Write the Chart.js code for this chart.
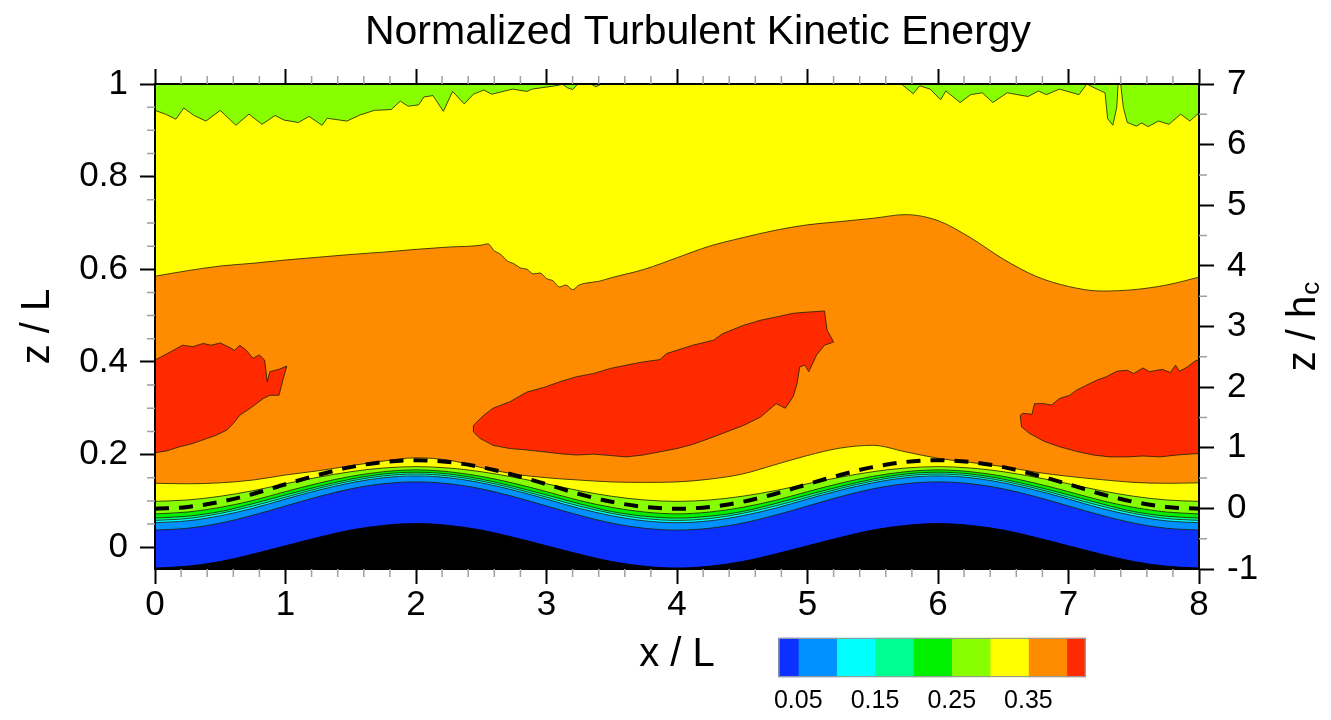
<!DOCTYPE html>
<html>
<head>
<meta charset="utf-8">
<title>Normalized Turbulent Kinetic Energy</title>
<script src="https://cdn.jsdelivr.net/npm/chart.js@4.4.1/dist/chart.umd.min.js"></script>
<style>
  html, body { margin: 0; padding: 0; background: #fff; }
  #wrap { position: relative; width: 1331px; height: 720px; }
  #field { position: absolute; left: 0; top: 0; }
  #legend { position: absolute; left: 740px; top: 628px; }
</style>
</head>
<body>
<div id="wrap">
  <canvas id="field" width="1331" height="720"></canvas>
  <canvas id="legend" width="380" height="92"></canvas>
</div>
<script>
const FONT = "'Liberation Sans', Arial, Helvetica, sans-serif";
const mainTitle = 'Normalized Turbulent Kinetic Energy';

// contour levels and the colour of each band, lowest band first
const levels = [0.05, 0.10, 0.15, 0.20, 0.25, 0.30, 0.35, 0.40];
const bandColors = ['#0c30ff', '#0090ff', '#00ffff', '#00ff90', '#00f000', '#88ff00', '#ffff00', '#ff8c00', '#ff2a00'];
const legendMin = 0.024, legendMax = 0.425;
const legendTicks = [0.05, 0.15, 0.25, 0.35];

// axes
const xTicks = [0, 1, 2, 3, 4, 5, 6, 7, 8];
const zTicks = [0, 0.2, 0.4, 0.6, 0.8, 1];
const hcTicks = [-1, 0, 1, 2, 3, 4, 5, 6, 7];
const zMin = -0.047, zMax = 1;
const hcMin = -1, hcMax = 7;

// near-wall layers, sampled every 0.25 L
const layerX = Array.from({ length: 33 }, (_, i) => i * 0.25);
const terrain = [-0.045,-0.041,-0.031,-0.015,0.003,0.021,0.037,0.047,0.051,0.047,0.037,0.021,0.003,-0.015,-0.031,-0.041,-0.045,-0.041,-0.031,-0.015,0.003,0.021,0.037,0.047,0.051,0.047,0.037,0.021,0.003,-0.015,-0.031,-0.041,-0.045];
const z005 = [0.037,0.041,0.052,0.069,0.089,0.109,0.126,0.137,0.141,0.137,0.126,0.109,0.089,0.069,0.052,0.041,0.037,0.041,0.052,0.069,0.089,0.109,0.126,0.137,0.141,0.137,0.126,0.109,0.089,0.069,0.052,0.041,0.037];
const z010 = [0.053,0.057,0.068,0.084,0.104,0.123,0.139,0.150,0.154,0.150,0.139,0.123,0.104,0.084,0.068,0.057,0.053,0.057,0.068,0.084,0.104,0.123,0.139,0.150,0.154,0.150,0.139,0.123,0.104,0.084,0.068,0.057,0.053];
const z015 = [0.058,0.062,0.073,0.089,0.108,0.127,0.143,0.154,0.158,0.154,0.143,0.127,0.108,0.089,0.073,0.062,0.058,0.062,0.073,0.089,0.108,0.127,0.143,0.154,0.158,0.154,0.143,0.127,0.108,0.089,0.073,0.062,0.058];
const z020 = [0.063,0.067,0.077,0.094,0.113,0.131,0.147,0.158,0.162,0.158,0.147,0.131,0.113,0.094,0.077,0.067,0.063,0.067,0.077,0.094,0.113,0.131,0.147,0.158,0.162,0.158,0.147,0.131,0.113,0.094,0.077,0.067,0.063];
const z025 = [0.072,0.076,0.086,0.101,0.120,0.138,0.153,0.163,0.167,0.163,0.153,0.138,0.120,0.101,0.086,0.076,0.072,0.076,0.086,0.101,0.120,0.138,0.153,0.163,0.167,0.163,0.153,0.138,0.120,0.101,0.086,0.076,0.072];
const z030 = [0.099,0.102,0.110,0.122,0.137,0.151,0.163,0.171,0.174,0.171,0.163,0.151,0.137,0.122,0.110,0.102,0.099,0.102,0.110,0.122,0.137,0.151,0.163,0.171,0.174,0.171,0.163,0.151,0.137,0.122,0.110,0.102,0.099];
const z035 = [0.138,0.137,0.139,0.145,0.156,0.165,0.176,0.186,0.193,0.188,0.172,0.158,0.150,0.145,0.141,0.140,0.141,0.147,0.158,0.178,0.198,0.214,0.220,0.206,0.192,0.183,0.174,0.162,0.153,0.146,0.140,0.138,0.139];
const canopyTop = [0.083,0.087,0.098,0.115,0.136,0.156,0.173,0.184,0.188,0.184,0.173,0.156,0.136,0.115,0.098,0.087,0.083,0.087,0.098,0.115,0.136,0.156,0.173,0.184,0.188,0.184,0.173,0.156,0.136,0.115,0.098,0.087,0.083];

// 0.35 contour in the upper flow (orange below, yellow above)
const upper035 = [[0,0.585],[0.25,0.597],[0.5,0.607],[0.75,0.613],[1,0.620],[1.25,0.626],[1.5,0.632],[1.75,0.637],[2,0.643],[2.25,0.648],[2.5,0.652],[2.55,0.655],[2.6,0.640],[2.65,0.632],[2.7,0.618],[2.75,0.612],[2.8,0.603],[2.85,0.600],[2.9,0.590],[2.95,0.592],[3,0.580],[3.05,0.575],[3.1,0.562],[3.15,0.566],[3.2,0.556],[3.25,0.566],[3.3,0.570],[3.4,0.574],[3.5,0.582],[3.75,0.600],[4,0.625],[4.25,0.650],[4.5,0.668],[4.75,0.684],[5,0.696],[5.25,0.703],[5.5,0.710],[5.75,0.718],[6,0.705],[6.25,0.668],[6.5,0.622],[6.75,0.585],[7,0.563],[7.25,0.553],[7.5,0.556],[7.75,0.566],[8,0.583]];

// 0.30 contour near the top of the domain
const upper030 = [[0,0.943],[0.08,0.935],[0.16,0.924],[0.22,0.948],[0.3,0.932],[0.39,0.920],[0.5,0.943],[0.62,0.911],[0.72,0.935],[0.82,0.913],[0.92,0.932],[0.99,0.922],[1.10,0.917],[1.18,0.930],[1.28,0.911],[1.32,0.926],[1.47,0.920],[1.57,0.933],[1.68,0.943],[1.81,0.945],[1.88,0.963],[1.94,0.952],[2.02,0.955],[2.06,0.972],[2.13,0.975],[2.21,0.941],[2.28,0.984],[2.37,0.957],[2.44,0.978],[2.52,0.987],[2.58,0.978],[2.74,0.989],[2.85,0.984],[2.89,0.989],[3.09,0.997],[3.12,1.0],[3.16,0.992],[3.2,0.988],[3.24,1.0],[3.34,1.0],[3.38,0.994],[3.42,1.0],[5.72,1.0],[5.81,0.979],[5.86,0.996],[5.94,0.989],[6.02,0.966],[6.06,0.985],[6.17,0.960],[6.25,0.977],[6.34,0.981],[6.42,0.960],[6.53,0.981],[6.69,0.973],[6.77,0.985],[6.83,0.977],[6.93,0.989],[7.08,0.977],[7.14,1.0],[7.18,0.994],[7.28,0.981],[7.30,0.925],[7.34,0.911],[7.37,0.95],[7.38,1.0],[7.40,1.0],[7.42,0.95],[7.45,0.917],[7.52,0.909],[7.56,0.916],[7.61,0.908],[7.69,0.920],[7.77,0.913],[7.86,0.935],[7.93,0.920],[8.0,0.938]];

// closed 0.40 contours
const redLeft = [[0,0.404],[0.06,0.413],[0.14,0.425],[0.21,0.436],[0.29,0.433],[0.37,0.440],[0.43,0.436],[0.50,0.441],[0.56,0.433],[0.61,0.425],[0.65,0.436],[0.70,0.425],[0.75,0.408],[0.80,0.415],[0.84,0.404],[0.86,0.357],[0.88,0.379],[0.95,0.384],[1.01,0.391],[0.98,0.361],[0.95,0.328],[0.88,0.328],[0.83,0.321],[0.73,0.300],[0.65,0.285],[0.60,0.267],[0.55,0.253],[0.47,0.242],[0.40,0.235],[0.29,0.224],[0.19,0.217],[0.09,0.208],[0,0.204],[0,0.404]];
const redMiddle = [[2.44,0.263],[2.52,0.285],[2.59,0.300],[2.72,0.314],[2.85,0.335],[2.98,0.345],[3.10,0.357],[3.23,0.368],[3.36,0.375],[3.49,0.386],[3.61,0.393],[3.74,0.400],[3.87,0.405],[3.92,0.418],[4.12,0.436],[4.28,0.447],[4.35,0.461],[4.51,0.479],[4.64,0.490],[4.76,0.497],[4.89,0.505],[5.02,0.508],[5.13,0.510],[5.15,0.469],[5.20,0.443],[5.13,0.436],[5.07,0.415],[5.01,0.379],[4.98,0.393],[4.94,0.389],[4.92,0.353],[4.89,0.325],[4.83,0.300],[4.76,0.310],[4.64,0.281],[4.51,0.263],[4.38,0.249],[4.25,0.235],[4.12,0.222],[4.00,0.213],[3.87,0.206],[3.74,0.199],[3.61,0.195],[3.49,0.198],[3.36,0.201],[3.23,0.199],[3.10,0.202],[2.98,0.206],[2.85,0.210],[2.72,0.213],[2.59,0.220],[2.49,0.235],[2.44,0.249],[2.44,0.263]];
const redRight = [[6.63,0.285],[6.65,0.289],[6.72,0.287],[6.74,0.310],[6.81,0.310],[6.87,0.307],[6.93,0.321],[7.01,0.328],[7.06,0.339],[7.14,0.350],[7.22,0.361],[7.29,0.368],[7.37,0.380],[7.45,0.382],[7.50,0.375],[7.57,0.387],[7.62,0.379],[7.72,0.384],[7.78,0.377],[7.82,0.393],[7.85,0.380],[7.91,0.389],[7.97,0.402],[8,0.405],[8,0.202],[7.97,0.202],[7.83,0.199],[7.70,0.195],[7.57,0.197],[7.45,0.195],[7.32,0.195],[7.19,0.199],[7.06,0.207],[6.93,0.217],[6.81,0.229],[6.70,0.246],[6.64,0.260],[6.63,0.285]];

const pts = (xs, ys) => xs.map((x, i) => ({ x, y: ys[i] }));
const pairs = arr => arr.map(([x, y]) => ({ x, y }));

const edge = 'rgba(30,30,0,0.8)';
function band(label, data, color, order, extra) {
  return Object.assign({
    label, data, order,
    fill: 'start',
    backgroundColor: color,
    borderColor: edge,
    borderWidth: 1,
    pointRadius: 0,
    tension: 0
  }, extra);
}
const smooth = { cubicInterpolationMode: 'monotone' };

const datasets = [
  band('0.30', pairs(upper030), bandColors[6], 20),
  band('0.35', pairs(upper035), bandColors[7], 19, smooth),
  band('0.40 a', pairs(redLeft), bandColors[8], 18, { fill: 'shape' }),
  band('0.40 b', pairs(redMiddle), bandColors[8], 18, { fill: 'shape' }),
  band('0.40 c', pairs(redRight), bandColors[8], 18, { fill: 'shape' }),
  band('0.35 wall', pts(layerX, z035), bandColors[6], 17, smooth),
  band('0.30 wall', pts(layerX, z030), bandColors[5], 16, smooth),
  band('0.25 wall', pts(layerX, z025), bandColors[4], 15, smooth),
  band('0.20 wall', pts(layerX, z020), bandColors[3], 14, smooth),
  band('0.15 wall', pts(layerX, z015), bandColors[2], 13, smooth),
  band('0.10 wall', pts(layerX, z010), bandColors[1], 12, smooth),
  band('0.05 wall', pts(layerX, z005), bandColors[0], 11, smooth),
  band('terrain', pts(layerX, terrain), '#000', 10, Object.assign({ borderColor: '#000' }, smooth)),
  Object.assign({
    label: 'canopy top', data: pts(layerX, canopyTop), order: 9, fill: false,
    borderColor: '#000', borderWidth: 4, borderDash: [14, 10], pointRadius: 0
  }, smooth)
];

// fill behind everything: the band above the 0.30 contour
const topBand = {
  id: 'topBand',
  beforeDatasetsDraw(chart) {
    const { ctx, chartArea: a } = chart;
    ctx.save();
    ctx.fillStyle = bandColors[5];
    ctx.fillRect(a.left, a.top, a.right - a.left, a.bottom - a.top);
    ctx.restore();
  }
};

const xMinor = [];
xTicks.slice(0, -1).forEach(v => [0.2, 0.4, 0.6, 0.8].forEach(d => xMinor.push(v + d)));
const zMinor = [];
zTicks.slice(0, -1).forEach(v => [0.05, 0.1, 0.15].forEach(d => zMinor.push(v + d)));
const hcMinor = hcTicks.slice(0, -1).map(v => v + 0.5);

const minorTicks = {
  id: 'minorTicks',
  afterDraw(chart) {
    const { ctx, scales: s } = chart;
    ctx.save();
    ctx.strokeStyle = '#a0a0a0';
    ctx.lineWidth = 1.5;
    ctx.beginPath();
    xMinor.forEach(v => {
      const px = s.x.getPixelForValue(v);
      ctx.moveTo(px, s.x.top); ctx.lineTo(px, s.x.top + 8);
      ctx.moveTo(px, s.x2.bottom); ctx.lineTo(px, s.x2.bottom - 8);
    });
    zMinor.forEach(v => {
      const py = s.y.getPixelForValue(v);
      ctx.moveTo(s.y.right, py); ctx.lineTo(s.y.right - 8, py);
    });
    hcMinor.forEach(v => {
      const py = s.y2.getPixelForValue(v);
      ctx.moveTo(s.y2.left, py); ctx.lineTo(s.y2.left + 8, py);
    });
    ctx.stroke();
    ctx.restore();
  }
};

// plot title and the right axis title (with subscript)
const titles = {
  id: 'titles',
  afterDraw(chart) {
    const { ctx, chartArea: a } = chart;
    ctx.save();
    ctx.fillStyle = '#000';
    ctx.font = `41px ${FONT}`;
    ctx.textAlign = 'center';
    ctx.textBaseline = 'middle';
    ctx.fillText(mainTitle, 698, 33);

    const main = 'z / h', sub = 'c';
    ctx.font = `40px ${FONT}`;
    const w1 = ctx.measureText(main).width;
    ctx.font = `26px ${FONT}`;
    const w2 = ctx.measureText(sub).width;
    ctx.translate(1302, (a.top + a.bottom) / 2);
    ctx.rotate(-Math.PI / 2);
    ctx.textAlign = 'left';
    ctx.textBaseline = 'alphabetic';
    const x0 = -(w1 + w2 + 1) / 2;
    ctx.font = `40px ${FONT}`;
    ctx.fillText(main, x0, 13);
    ctx.font = `26px ${FONT}`;
    ctx.fillText(sub, x0 + w1 + 1, 17);
    ctx.restore();
  }
};

const tickFont = { family: FONT, size: 35 };
const titleFont = { family: FONT, size: 40 };
const frame = { display: true, color: '#000', width: 2, z: 1 };
const majorGrid = { drawOnChartArea: false, drawTicks: true, tickLength: 15, tickWidth: 2, tickColor: '#000' };
const setTicks = list => scale => { scale.ticks = list.map(v => ({ value: v })); };

new Chart(document.getElementById('field'), {
  type: 'line',
  data: { datasets },
  options: {
    responsive: false,
    animation: false,
    events: [],
    layout: { padding: 0 },
    plugins: { legend: { display: false }, tooltip: { enabled: false }, title: { display: false } },
    scales: {
      x: {
        type: 'linear', position: 'bottom', min: 0, max: 8,
        afterBuildTicks: setTicks(xTicks),
        afterFit: s => { s.height = 151; },
        grid: majorGrid, border: frame,
        ticks: { color: '#000', font: tickFont, padding: 0, maxRotation: 0, autoSkip: false, callback: v => String(v) },
        title: { display: true, text: 'x / L', color: '#000', font: titleFont, padding: { top: 0, bottom: 41 } }
      },
      x2: {
        type: 'linear', position: 'top', min: 0, max: 8,
        afterBuildTicks: setTicks(xTicks),
        afterFit: s => { s.height = 84; },
        grid: majorGrid, border: frame,
        ticks: { display: false }
      },
      y: {
        type: 'linear', position: 'left', min: zMin, max: zMax,
        afterBuildTicks: setTicks(zTicks),
        afterFit: s => { s.width = 155; },
        grid: majorGrid, border: frame,
        ticks: { color: '#000', font: tickFont, padding: 12, autoSkip: false, callback: v => String(v) },
        title: { display: true, text: 'z / L', color: '#000', font: titleFont, padding: { top: 14, bottom: 0 } }
      },
      y2: {
        type: 'linear', position: 'right', min: hcMin, max: hcMax,
        afterBuildTicks: setTicks(hcTicks),
        afterFit: s => { s.width = 132; },
        grid: majorGrid, border: frame,
        ticks: { color: '#000', font: tickFont, padding: 13, autoSkip: false, callback: v => String(v) }
      }
    }
  },
  plugins: [topBand, minorTicks, titles]
});

// colour bar
const bounds = [legendMin, ...levels, legendMax];
const legendSets = bandColors.map((c, i) => ({
  data: [[bounds[i], bounds[i + 1]]],
  backgroundColor: c,
  borderWidth: 0,
  barPercentage: 1,
  categoryPercentage: 1,
  grouped: false,
  order: 1
}));
legendSets.push({
  data: [[legendMin, legendMax]],
  backgroundColor: 'rgba(0,0,0,0)',
  borderColor: '#9a9a9a',
  borderWidth: 1,
  borderSkipped: false,
  barPercentage: 1,
  categoryPercentage: 1,
  grouped: false,
  order: 0
});

new Chart(document.getElementById('legend'), {
  type: 'bar',
  data: { labels: [''], datasets: legendSets },
  options: {
    indexAxis: 'y',
    responsive: false,
    animation: false,
    events: [],
    layout: { padding: { left: 38.3, right: 34, top: 9.7, bottom: 0 } },
    plugins: { legend: { display: false }, tooltip: { enabled: false } },
    scales: {
      x: {
        type: 'linear', min: legendMin, max: legendMax,
        afterBuildTicks: setTicks(legendTicks),
        afterFit: s => { s.height = 42.7; },
        grid: { display: false, drawTicks: false },
        border: { display: false },
        ticks: { color: '#000', font: { family: FONT, size: 25 }, padding: 9, maxRotation: 0, autoSkip: false, callback: v => v.toFixed(2) }
      },
      y: { display: false }
    }
  }
});
</script>
</body>
</html>
